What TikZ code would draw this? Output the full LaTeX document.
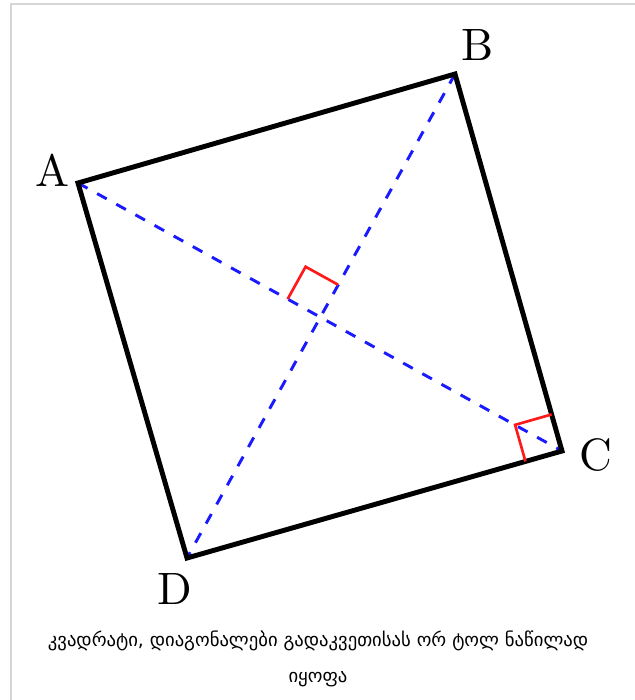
\documentclass[tikz,border=0pt]{standalone}
\usepackage{fontspec}
\newfontfamily\geofont{DejaVu Sans}
\newfontfamily\labfont{lmroman10-regular.otf}
\usetikzlibrary{calc}
\definecolor{FrameGray}{HTML}{D6D6D6}
\definecolor{DiagBlue}{HTML}{1A1AFF}
\definecolor{MarkRed}{HTML}{FF1A1A}

\begin{document}
\begin{tikzpicture}[
  x=0.75pt,y=-0.75pt,
  side/.style={line width=3.7pt,black},
  diag/.style={line width=2.2pt,DiagBlue,dash pattern=on 8.2pt off 8.2pt},
  rmark/.style={line width=2pt,MarkRed},
  vlabel/.style={font=\labfont\fontsize{34}{40}\selectfont,inner sep=0pt}
]
\useasboundingbox (0,0) rectangle (635,700);
\draw[FrameGray,line width=1.2pt] (11,700) -- (11,4) -- (635,4);

% corners of the square
\coordinate (A) at (78,183);
\coordinate (B) at (455,74);
\coordinate (C) at (562,451);
\coordinate (D) at (187,558);
\coordinate (O) at ($(A)!0.5!(C)$);

% diagonals
\draw[diag] (A) -- (C);
\draw[diag] (B) -- (D);

\draw[side] (A) -- (B) -- (C) -- (D) -- cycle;

% right angles
\coordinate (oa) at ($(O)!27.75pt!(A)$);
\coordinate (ob) at ($(O)!27.75pt!(B)$);
\draw[rmark] (oa) -- ($(oa)+(ob)-(O)$) -- (ob);
\coordinate (cb) at ($(C)!28.5pt!(B)$);
\coordinate (cd) at ($(C)!28.5pt!(D)$);
\draw[rmark] (cb) -- ($(cb)+(cd)-(C)$) -- (cd);

\node[vlabel] (labA) at (52,170) {A};
\node[vlabel] (labB) at (478,45) {B};
\node[vlabel] (labC) at (596,455) {C};
\node[vlabel] (labD) at (175,589) {D};

\node[font=\geofont\fontsize{14}{27}\selectfont,align=center] (caption) at (318,659)
  {კვადრატი, დიაგონალები გადაკვეთისას ორ ტოლ ნაწილად\\იყოფა};
\end{tikzpicture}
\end{document}
